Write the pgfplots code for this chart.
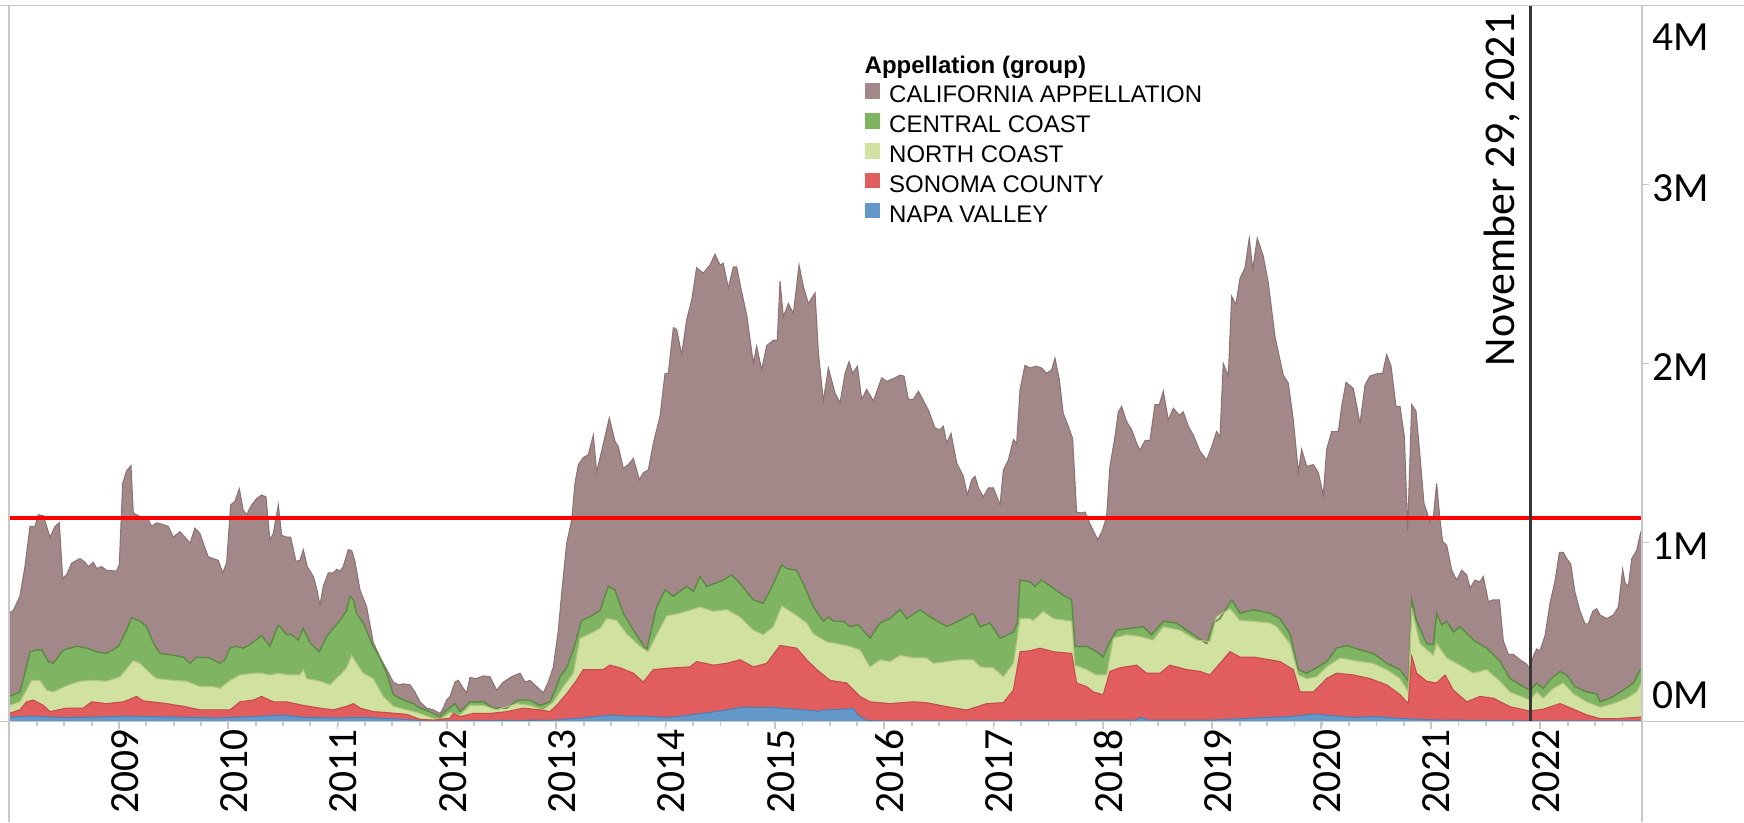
\documentclass[border=0pt]{standalone}
\usepackage{fontspec}
\setmainfont{Carlito}
\newfontfamily\legendfont{Liberation Sans}
\usepackage{pgfplots}
\usepackage{pgfplotstable}
\pgfplotsset{compat=1.18}

\definecolor{calif}{RGB}{163,136,137}
\definecolor{califline}{RGB}{140,114,115}
\definecolor{central}{RGB}{127,181,98}
\definecolor{centralline}{RGB}{92,138,68}
\definecolor{north}{RGB}{209,225,159}
\definecolor{northline}{RGB}{180,196,128}
\definecolor{sonoma}{RGB}{226,93,94}
\definecolor{sonomaline}{RGB}{196,74,76}
\definecolor{napa}{RGB}{100,152,201}
\definecolor{napaline}{RGB}{78,128,178}
\definecolor{frame}{RGB}{200,200,200}

\newcommand\tickfont{\fontsize{11.8}{14}\selectfont}
\newcommand\novfont{\fontsize{12.5}{15}\selectfont}
\newcommand\legfont{\legendfont\fontsize{6.83}{8}\selectfont}

% cumulative tops of each layer, in millions
\pgfplotstableread{
x y
2007.994 0.605
2008.033 0.62
2008.094 0.70
2008.140 0.865
2008.186 1.09
2008.232 1.09
2008.262 1.155
2008.308 1.15
2008.369 1.03
2008.415 1.09
2008.454 1.11
2008.485 0.80
2008.521 0.82
2008.567 0.885
2008.643 0.91
2008.689 0.89
2008.720 0.865
2008.765 0.89
2008.796 0.855
2008.841 0.865
2008.887 0.845
2008.979 0.84
2009.003 0.875
2009.034 1.33
2009.070 1.40
2009.110 1.43
2009.131 1.165
2009.192 1.145
2009.253 1.145
2009.299 1.09
2009.345 1.11
2009.406 1.10
2009.451 1.09
2009.497 1.03
2009.558 1.06
2009.604 1.03
2009.650 0.995
2009.695 1.08
2009.741 1.05
2009.772 0.995
2009.817 0.92
2009.863 0.91
2009.909 0.90
2009.949 0.83
2009.985 0.885
2010.022 1.21
2010.061 1.23
2010.101 1.30
2010.137 1.18
2010.168 1.155
2010.214 1.21
2010.259 1.245
2010.305 1.265
2010.345 1.255
2010.381 1.015
2010.412 1.05
2010.458 1.21
2010.488 1.04
2010.534 1.03
2010.571 1.03
2010.619 0.895
2010.656 0.90
2010.686 0.96
2010.723 0.865
2010.778 0.81
2010.808 0.745
2010.839 0.65
2010.869 0.755
2010.915 0.83
2010.961 0.83
2010.991 0.85
2011.022 0.84
2011.052 0.865
2011.098 0.96
2011.129 0.955
2011.159 0.895
2011.205 0.735
2011.266 0.64
2011.327 0.44
2011.388 0.36
2011.449 0.29
2011.510 0.22
2011.556 0.205
2011.601 0.21
2011.662 0.205
2011.708 0.165
2011.754 0.11
2011.815 0.075
2011.876 0.065
2011.937 0.045
2011.967 0.075
2011.998 0.12
2012.029 0.14
2012.074 0.22
2012.105 0.23
2012.150 0.185
2012.181 0.16
2012.211 0.245
2012.272 0.24
2012.333 0.255
2012.394 0.25
2012.455 0.175
2012.516 0.22
2012.593 0.25
2012.669 0.27
2012.715 0.22
2012.760 0.23
2012.821 0.195
2012.882 0.16
2012.928 0.22
2012.974 0.305
2013.020 0.51
2013.050 0.715
2013.096 0.995
2013.142 1.125
2013.172 1.33
2013.203 1.435
2013.248 1.475
2013.294 1.49
2013.340 1.60
2013.370 1.395
2013.416 1.51
2013.486 1.695
2013.538 1.565
2013.569 1.535
2013.614 1.415
2013.660 1.435
2013.706 1.47
2013.761 1.35
2013.797 1.39
2013.843 1.405
2013.889 1.555
2013.950 1.705
2013.996 1.945
2014.026 1.945
2014.072 2.20
2014.102 2.19
2014.148 2.05
2014.194 2.245
2014.240 2.355
2014.285 2.535
2014.346 2.505
2014.407 2.55
2014.453 2.61
2014.499 2.55
2014.529 2.56
2014.575 2.42
2014.621 2.54
2014.651 2.54
2014.697 2.40
2014.743 2.27
2014.804 2.00
2014.834 2.095
2014.880 1.965
2014.926 2.10
2014.987 2.13
2015.023 2.13
2015.048 2.46
2015.078 2.26
2015.124 2.335
2015.170 2.28
2015.222 2.55
2015.261 2.43
2015.307 2.335
2015.368 2.395
2015.399 2.06
2015.444 1.79
2015.490 1.975
2015.551 1.835
2015.597 1.78
2015.643 1.945
2015.679 2.01
2015.713 1.945
2015.756 1.985
2015.795 1.80
2015.841 1.855
2015.902 1.79
2015.978 1.92
2016.024 1.90
2016.100 1.92
2016.146 1.935
2016.182 1.93
2016.222 1.80
2016.268 1.80
2016.314 1.845
2016.353 1.80
2016.405 1.74
2016.466 1.64
2016.512 1.63
2016.542 1.65
2016.573 1.555
2016.612 1.61
2016.664 1.445
2016.725 1.37
2016.762 1.265
2016.801 1.35
2016.832 1.37
2016.863 1.305
2016.908 1.255
2016.954 1.305
2017.000 1.305
2017.061 1.21
2017.091 1.405
2017.137 1.46
2017.183 1.575
2017.213 1.555
2017.244 1.855
2017.289 1.99
2017.334 1.975
2017.395 1.985
2017.441 1.975
2017.487 1.945
2017.533 1.965
2017.563 2.03
2017.603 1.91
2017.639 1.72
2017.685 1.65
2017.725 1.58
2017.761 1.17
2017.807 1.165
2017.838 1.17
2017.883 1.105
2017.954 1.015
2017.999 1.07
2018.036 1.145
2018.066 1.425
2018.112 1.59
2018.143 1.73
2018.173 1.76
2018.219 1.675
2018.265 1.63
2018.310 1.555
2018.341 1.515
2018.387 1.57
2018.432 1.57
2018.478 1.77
2018.518 1.77
2018.554 1.845
2018.600 1.685
2018.646 1.75
2018.701 1.71
2018.737 1.73
2018.783 1.65
2018.829 1.60
2018.890 1.51
2018.951 1.46
2018.997 1.535
2019.042 1.62
2019.073 1.59
2019.103 2.00
2019.149 1.93
2019.180 2.375
2019.219 2.33
2019.256 2.475
2019.302 2.535
2019.341 2.70
2019.372 2.525
2019.414 2.70
2019.469 2.60
2019.515 2.45
2019.576 2.15
2019.652 1.935
2019.698 1.89
2019.744 1.685
2019.790 1.39
2019.820 1.52
2019.866 1.425
2019.927 1.435
2019.973 1.39
2020.018 1.265
2020.049 1.52
2020.095 1.62
2020.156 1.62
2020.186 1.76
2020.226 1.895
2020.293 1.86
2020.354 1.665
2020.400 1.88
2020.445 1.93
2020.522 1.945
2020.561 1.945
2020.598 2.05
2020.638 1.985
2020.683 1.76
2020.720 1.76
2020.760 1.59
2020.790 1.07
2020.827 1.77
2020.866 1.735
2020.903 1.48
2020.939 1.22
2020.994 1.115
2021.025 1.145
2021.055 1.33
2021.086 1.125
2021.110 1.005
2021.147 0.985
2021.193 0.845
2021.238 0.79
2021.284 0.845
2021.330 0.82
2021.360 0.745
2021.406 0.79
2021.452 0.78
2021.482 0.81
2021.528 0.67
2021.574 0.68
2021.629 0.68
2021.665 0.45
2021.711 0.375
2021.757 0.375
2021.818 0.345
2021.879 0.32
2021.909 0.29
2021.940 0.365
2021.970 0.405
2022.001 0.395
2022.047 0.48
2022.092 0.66
2022.138 0.785
2022.178 0.945
2022.214 0.945
2022.245 0.91
2022.282 0.88
2022.321 0.72
2022.367 0.615
2022.413 0.545
2022.443 0.545
2022.483 0.615
2022.519 0.63
2022.550 0.595
2022.611 0.575
2022.672 0.595
2022.718 0.64
2022.757 0.85
2022.779 0.775
2022.809 0.755
2022.840 0.91
2022.885 0.955
2022.916 1.04
2022.934 1.08
}\californiatop

\pgfplotstableread{
x y
2007.994 0.14
2008.094 0.165
2008.140 0.27
2008.186 0.39
2008.247 0.40
2008.293 0.40
2008.354 0.335
2008.399 0.325
2008.491 0.40
2008.613 0.42
2008.704 0.41
2008.796 0.39
2008.887 0.38
2008.994 0.42
2009.070 0.51
2009.116 0.58
2009.192 0.56
2009.253 0.53
2009.314 0.44
2009.375 0.38
2009.497 0.37
2009.589 0.36
2009.650 0.325
2009.711 0.36
2009.833 0.355
2009.924 0.325
2009.970 0.345
2010.016 0.41
2010.076 0.42
2010.137 0.41
2010.198 0.43
2010.305 0.48
2010.381 0.42
2010.458 0.54
2010.534 0.485
2010.580 0.485
2010.641 0.455
2010.686 0.52
2010.747 0.44
2010.833 0.39
2010.900 0.475
2010.961 0.52
2011.022 0.565
2011.083 0.62
2011.113 0.70
2011.144 0.68
2011.174 0.605
2011.235 0.55
2011.327 0.42
2011.388 0.355
2011.449 0.27
2011.510 0.15
2011.601 0.12
2011.693 0.10
2011.754 0.075
2011.845 0.055
2011.937 0.027
2011.998 0.065
2012.029 0.075
2012.074 0.10
2012.120 0.055
2012.211 0.11
2012.333 0.11
2012.425 0.075
2012.547 0.075
2012.654 0.12
2012.760 0.12
2012.852 0.09
2012.943 0.11
2013.004 0.195
2013.035 0.25
2013.096 0.30
2013.157 0.40
2013.233 0.565
2013.309 0.585
2013.401 0.62
2013.477 0.755
2013.538 0.735
2013.614 0.605
2013.706 0.51
2013.828 0.40
2013.919 0.64
2013.996 0.735
2014.072 0.70
2014.194 0.755
2014.255 0.725
2014.316 0.81
2014.377 0.755
2014.529 0.79
2014.606 0.82
2014.682 0.77
2014.804 0.68
2014.895 0.66
2014.987 0.77
2015.063 0.875
2015.109 0.855
2015.200 0.845
2015.261 0.77
2015.353 0.64
2015.444 0.56
2015.490 0.585
2015.536 0.56
2015.627 0.56
2015.688 0.53
2015.765 0.54
2015.871 0.465
2015.963 0.55
2016.054 0.575
2016.146 0.625
2016.207 0.575
2016.329 0.625
2016.420 0.585
2016.573 0.53
2016.695 0.565
2016.817 0.605
2016.878 0.53
2016.969 0.55
2017.061 0.465
2017.183 0.50
2017.219 0.55
2017.244 0.79
2017.335 0.78
2017.380 0.755
2017.441 0.79
2017.548 0.745
2017.639 0.705
2017.716 0.68
2017.746 0.42
2017.853 0.42
2017.944 0.39
2018.005 0.36
2018.051 0.43
2018.127 0.51
2018.249 0.52
2018.371 0.53
2018.447 0.485
2018.554 0.56
2018.676 0.55
2018.768 0.51
2018.951 0.435
2019.012 0.55
2019.073 0.575
2019.180 0.68
2019.256 0.605
2019.378 0.625
2019.530 0.605
2019.622 0.575
2019.713 0.49
2019.790 0.29
2019.866 0.27
2019.957 0.30
2020.049 0.335
2020.140 0.41
2020.232 0.425
2020.354 0.40
2020.476 0.38
2020.598 0.325
2020.720 0.29
2020.796 0.225
2020.827 0.68
2020.872 0.56
2020.964 0.435
2021.025 0.43
2021.055 0.605
2021.101 0.54
2021.147 0.56
2021.208 0.50
2021.269 0.53
2021.391 0.455
2021.513 0.41
2021.635 0.335
2021.726 0.24
2021.818 0.205
2021.909 0.175
2021.970 0.215
2022.031 0.185
2022.092 0.235
2022.184 0.28
2022.245 0.26
2022.321 0.195
2022.428 0.165
2022.519 0.155
2022.550 0.11
2022.641 0.13
2022.763 0.175
2022.855 0.215
2022.916 0.29
2022.934 0.29
}\centraltop

\pgfplotstableread{
x y
2007.994 0.09
2008.094 0.11
2008.140 0.16
2008.201 0.23
2008.277 0.23
2008.338 0.175
2008.399 0.165
2008.521 0.20
2008.643 0.225
2008.765 0.23
2008.887 0.225
2009.009 0.25
2009.085 0.305
2009.131 0.34
2009.192 0.325
2009.284 0.27
2009.345 0.24
2009.497 0.23
2009.619 0.225
2009.741 0.195
2009.863 0.195
2009.924 0.185
2010.016 0.23
2010.107 0.26
2010.229 0.27
2010.305 0.27
2010.381 0.26
2010.458 0.27
2010.534 0.26
2010.656 0.26
2010.686 0.29
2010.717 0.24
2010.839 0.225
2010.930 0.205
2011.022 0.26
2011.083 0.30
2011.129 0.37
2011.174 0.325
2011.235 0.27
2011.327 0.24
2011.418 0.14
2011.510 0.085
2011.632 0.065
2011.754 0.045
2011.876 0.018
2011.937 0.012
2012.028 0.05
2012.120 0.036
2012.211 0.09
2012.333 0.09
2012.455 0.065
2012.638 0.10
2012.760 0.09
2012.882 0.065
2012.974 0.11
2013.065 0.195
2013.157 0.27
2013.218 0.465
2013.309 0.49
2013.401 0.52
2013.462 0.575
2013.553 0.565
2013.645 0.49
2013.767 0.42
2013.843 0.39
2013.919 0.485
2014.011 0.59
2014.133 0.605
2014.316 0.64
2014.438 0.615
2014.560 0.625
2014.682 0.585
2014.804 0.51
2014.895 0.485
2014.987 0.53
2015.063 0.645
2015.170 0.605
2015.292 0.55
2015.353 0.49
2015.475 0.445
2015.566 0.435
2015.688 0.42
2015.780 0.40
2015.871 0.305
2015.963 0.345
2016.054 0.335
2016.146 0.37
2016.268 0.355
2016.390 0.355
2016.451 0.325
2016.573 0.335
2016.695 0.345
2016.817 0.345
2016.878 0.305
2017.000 0.30
2017.091 0.25
2017.183 0.325
2017.244 0.575
2017.335 0.575
2017.365 0.565
2017.457 0.615
2017.548 0.575
2017.716 0.56
2017.746 0.315
2017.853 0.29
2017.944 0.26
2018.036 0.26
2018.097 0.465
2018.219 0.485
2018.341 0.475
2018.463 0.455
2018.554 0.53
2018.707 0.51
2018.859 0.455
2018.981 0.445
2019.042 0.585
2019.164 0.63
2019.256 0.565
2019.378 0.56
2019.530 0.55
2019.591 0.53
2019.713 0.435
2019.790 0.26
2019.866 0.24
2019.957 0.25
2020.049 0.305
2020.171 0.355
2020.354 0.335
2020.476 0.325
2020.598 0.29
2020.720 0.24
2020.796 0.165
2020.827 0.625
2020.903 0.435
2021.025 0.37
2021.055 0.435
2021.147 0.355
2021.269 0.315
2021.391 0.27
2021.513 0.29
2021.635 0.225
2021.726 0.165
2021.909 0.12
2021.970 0.165
2022.031 0.13
2022.123 0.185
2022.214 0.215
2022.306 0.155
2022.428 0.11
2022.550 0.08
2022.672 0.10
2022.794 0.13
2022.885 0.165
2022.934 0.225
}\northtop

\pgfplotstableread{
x y
2007.994 0.045
2008.094 0.065
2008.155 0.11
2008.216 0.12
2008.308 0.09
2008.369 0.055
2008.521 0.075
2008.674 0.075
2008.750 0.11
2008.887 0.10
2009.040 0.11
2009.162 0.14
2009.223 0.115
2009.436 0.10
2009.589 0.085
2009.741 0.065
2009.894 0.065
2010.016 0.065
2010.107 0.11
2010.229 0.12
2010.305 0.14
2010.412 0.11
2010.534 0.11
2010.686 0.09
2010.839 0.075
2010.961 0.065
2011.083 0.085
2011.144 0.10
2011.205 0.075
2011.327 0.055
2011.449 0.05
2011.632 0.04
2011.754 0.012
2011.876 0.008
2012.028 0.018
2012.059 0.045
2012.120 0.027
2012.242 0.045
2012.394 0.045
2012.547 0.055
2012.699 0.075
2012.852 0.065
2012.943 0.055
2013.004 0.09
2013.096 0.155
2013.187 0.23
2013.248 0.29
2013.340 0.29
2013.431 0.29
2013.492 0.315
2013.584 0.30
2013.706 0.27
2013.797 0.22
2013.889 0.29
2014.072 0.30
2014.224 0.305
2014.285 0.335
2014.438 0.315
2014.560 0.325
2014.682 0.345
2014.804 0.305
2014.926 0.325
2015.048 0.425
2015.200 0.41
2015.292 0.345
2015.383 0.29
2015.505 0.23
2015.658 0.215
2015.780 0.14
2015.871 0.11
2016.054 0.10
2016.268 0.11
2016.390 0.105
2016.573 0.083
2016.756 0.064
2016.939 0.10
2017.091 0.105
2017.183 0.176
2017.244 0.39
2017.335 0.395
2017.426 0.41
2017.548 0.39
2017.716 0.38
2017.761 0.215
2017.853 0.195
2017.914 0.165
2018.005 0.15
2018.066 0.28
2018.158 0.30
2018.310 0.315
2018.402 0.27
2018.524 0.27
2018.615 0.315
2018.768 0.29
2018.890 0.28
2018.981 0.26
2019.073 0.325
2019.164 0.39
2019.256 0.36
2019.378 0.36
2019.530 0.345
2019.622 0.335
2019.744 0.29
2019.805 0.165
2019.927 0.165
2020.049 0.24
2020.140 0.27
2020.293 0.26
2020.445 0.24
2020.598 0.205
2020.720 0.15
2020.796 0.10
2020.827 0.365
2020.872 0.27
2020.964 0.225
2021.055 0.215
2021.132 0.26
2021.208 0.175
2021.330 0.11
2021.452 0.14
2021.574 0.13
2021.726 0.083
2021.909 0.058
2022.031 0.069
2022.184 0.10
2022.306 0.069
2022.428 0.037
2022.550 0.016
2022.702 0.016
2022.855 0.022
2022.934 0.026
}\sonomatop

\pgfplotstableread{
x y
2007.994 0.025
2008.2 0.03
2008.5 0.022
2008.8 0.025
2009.05 0.03
2009.5 0.025
2009.9 0.02
2010.2 0.027
2010.5 0.036
2010.7 0.023
2011.0 0.02
2011.2 0.023
2011.5 0.016
2011.7 0.008
2011.8 0.002
2012.5 0.006
2013.0 0.008
2013.05 0.012
2013.2 0.018
2013.5 0.036
2013.65 0.03
2013.8 0.03
2014.0 0.023
2014.1 0.027
2014.4 0.05
2014.55 0.064
2014.7 0.08
2015.0 0.078
2015.2 0.068
2015.4 0.058
2015.45 0.064
2015.72 0.072
2015.76 0.036
2015.84 0.006
2016.0 0.003
2017.0 0.003
2017.5 0.006
2018.3 0.008
2018.35 0.022
2018.42 0.008
2019.0 0.008
2019.4 0.02
2019.7 0.027
2019.95 0.042
2020.05 0.035
2020.3 0.023
2020.5 0.028
2020.7 0.018
2020.9 0.012
2021.1 0.008
2022.0 0.003
2022.934 0.003
}\napatop

\begin{document}
\begin{tikzpicture}
\begin{axis}[
  at={(0,0)}, anchor=south west,
  scale only axis, width=16.33cm, height=7.16cm,
  xmin=2007.994, xmax=2022.934, ymin=0, ymax=4,
  clip=false,
  axis line style={draw=none},
  xtick={2009,2010,2011,2012,2013,2014,2015,2016,2017,2018,2019,2020,2021,2022},
  xticklabels={2009,2010,2011,2012,2013,2014,2015,2016,2017,2018,2019,2020,2021,2022},
  minor xtick={2008.25,2008.5,...,2022.75},
  ytick={0,1,2,3,4},
  yticklabels={\raisebox{0.135cm}[0pt][0pt]{0M},\raisebox{-0.165cm}[0pt][0pt]{1M},\raisebox{-0.165cm}[0pt][0pt]{2M},\raisebox{-0.165cm}[0pt][0pt]{3M},\raisebox{-0.45cm}[0pt][0pt]{4M}},
  xtick pos=bottom, ytick pos=right, yticklabel pos=right,
  tick align=outside,
  major tick length=0.07cm, minor tick length=0.04cm,
  every tick/.style={frame, line width=0.5pt},
  xticklabel style={rotate=90, anchor=east, inner sep=0pt, font=\tickfont, yshift=-0.06cm},
  yticklabel style={anchor=west, inner sep=0pt, font=\tickfont, xshift=0.03cm},
  legend style={draw=none, fill=none, at={(axis description cs:0.524,0.930)}, anchor=north west,
    inner sep=0pt, outer sep=0pt, font=\legfont, row sep=0.048cm, column sep=0.09cm,
    nodes={inner sep=0pt, text height=0.175cm, text depth=0.055cm}},
  legend cell align=left,
  legend image code/.code={\fill[#1] (0cm,-0.02cm) rectangle (0.155cm,0.135cm);},
]
\addlegendimage{empty legend}
\addplot[fill=calif, draw=none] table[x=x,y=y] {\californiatop} \closedcycle;
\addplot[fill=central, draw=none] table[x=x,y=y] {\centraltop} \closedcycle;
\addplot[fill=north, draw=none] table[x=x,y=y] {\northtop} \closedcycle;
\addplot[fill=sonoma, draw=none] table[x=x,y=y] {\sonomatop} \closedcycle;
\addplot[fill=napa, draw=none] table[x=x,y=y] {\napatop} \closedcycle;
\addplot[forget plot, draw=califline, line width=0.3pt] table[x=x,y=y] {\californiatop};
\addplot[forget plot, draw=centralline, line width=0.4pt] table[x=x,y=y] {\centraltop};
\addplot[forget plot, draw=northline, line width=0.3pt] table[x=x,y=y] {\northtop};
\addplot[forget plot, draw=sonomaline, line width=0.3pt] table[x=x,y=y] {\sonomatop};
\addplot[forget plot, draw=napaline, line width=0.3pt] table[x=x,y=y] {\napatop};
\addplot[forget plot, red, line width=1.2pt] coordinates {(2007.994,1.135) (2022.934,1.135)};
\addplot[forget plot, draw={rgb,255:red,55;green,55;blue,55}, line width=0.9pt] coordinates {(2021.91,0) (2021.91,4)};
\legend{{\hspace*{-0.245cm}\textbf{Appellation (group)}},{CALIFORNIA APPELLATION},{CENTRAL COAST},{NORTH COAST},{SONOMA COUNTY},{NAPA VALLEY}}
\node[shift={(-0.09cm,-0.075cm)}, rotate=90, anchor=south east, inner sep=0pt, font=\novfont] at (axis cs:2021.91,4) {November 29, 2021};
\end{axis}
\draw[frame, line width=0.45pt] (-0.09,7.16) -- (17.35,7.16);
\draw[frame, line width=0.45pt] (-0.09,0) -- (17.35,0);
\draw[frame, line width=0.45pt] (0,7.16) -- (0,-1.005);
\draw[frame, line width=0.45pt] (16.33,7.16) -- (16.33,-1.005);
\pgfresetboundingbox
\path (-0.09,-1.005) rectangle (17.35,7.215);
\end{tikzpicture}
\end{document}
